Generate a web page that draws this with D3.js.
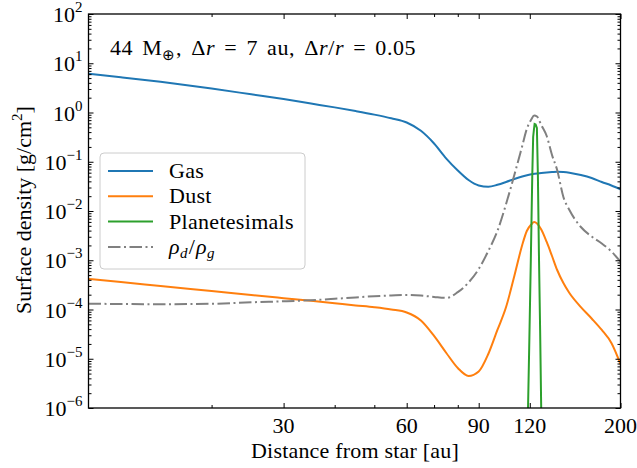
<!DOCTYPE html>
<html><head><meta charset="utf-8">
<script src="https://cdn.jsdelivr.net/npm/d3@7"></script>
<style>
body{margin:0;background:#fff}
text{font-family:"Liberation Serif","Times New Roman",serif;fill:#000}
</style>
</head><body><svg id="c" width="637" height="468"></svg>
<script>
// ---- data ----
const gasR = [10,12,15,20,25,30,35,40,45,50,55,60,65,70,75,80,85,90,95,100,105,110,115,121,128,136,140,145,150,160,170,180,190,200];
const gasSigma = [6.13,5.19,4.19,3.07,2.34,1.87,1.52,1.27,1.07,0.906,0.762,0.627,0.425,0.235,0.116,0.0664,0.0426,0.0330,0.0310,0.0340,0.0388,0.0446,0.0502,0.0556,0.0591,0.0619,0.0628,0.0619,0.0600,0.0538,0.0468,0.0388,0.0330,0.0276];

const dustR = [10,12,15,20,25,30,35,40,45,50,55,60,65,70,75,80,85,90,95,100,105,110,115,118,121,123,125,128,132,136,140,145,150,160,170,180,190,200];
const dustSigma = [4.16e-4,3.62e-4,3.00e-4,2.37e-4,1.97e-4,1.70e-4,1.50e-4,1.34e-4,1.21e-4,1.11e-4,1.00e-4,8.69e-5,5.98e-5,2.90e-5,1.31e-5,6.49e-6,4.46e-6,5.51e-6,1.25e-5,3.84e-5,1.12e-4,4.79e-4,2.04e-3,3.93e-3,5.32e-3,5.98e-3,5.58e-3,4.21e-3,2.35e-3,1.22e-3,6.34e-4,3.45e-4,2.16e-4,1.12e-4,6.57e-5,3.84e-5,2.09e-5,7.82e-6];

const planR = [118.8,119.7,120.7,121.7,122.3,122.8,123.3,124.0,124.9,125.6,126.3,127.2,128.0];
const planSigma = [9.1e-7,2.40e-5,1.01e-3,0.0538,0.318,0.441,0.584,0.570,0.484,0.0538,1.61e-3,3.84e-5,8.3e-7];

const ratioR = [10,12,15,20,25,30,35,40,45,50,55,60,65,70,75,80,85,90,95,100,105,110,115,118,121,123,125,128,132,136,140,145,150,160,170,180,190,200];
const ratioVal = [1.312e-4,1.293e-4,1.281e-4,1.306e-4,1.400e-4,1.467e-4,1.544e-4,1.650e-4,1.761e-4,1.862e-4,1.924e-4,1.970e-4,1.915e-4,1.800e-4,1.720e-4,2.250e-4,3.53e-4,6.64e-4,1.54e-3,3.93e-3,1.387e-2,5.38e-2,0.209,0.462,0.721,0.869,0.829,0.558,0.333,0.137,0.0680,0.01925,0.01048,4.73e-3,3.03e-3,2.19e-3,1.505e-3,9.34e-4];

const xTickValues = [30,60,90,120,200];
const xMinorTickValues = [20,40,50,70,80];
const yTickExponents = [-6,-5,-4,-3,-2,-1,0,1,2];
const legendNames = ["Gas","Dust","Planetesimals","rho"];
const seriesColors = ["#1f77b4","#ff7f0e","#2ca02c","#808080"];

// ---- layout ----
const L = 88.5, R = 620.5, T = 14, B = 408;
const svg = d3.select("#c");
const x = d3.scaleLog().domain([10,200]).range([L,R]);
const y = d3.scaleLog().domain([1e-6,1e2]).range([B,T]);

svg.append("defs").append("clipPath").attr("id","clip")
  .append("rect").attr("x",L).attr("y",T).attr("width",R-L).attr("height",B-T);

const line = d3.line().x(d=>x(d[0])).y(d=>y(d[1])).curve(d3.curveMonotoneX);
const lineLin = d3.line().x(d=>x(d[0])).y(d=>y(d[1]));
const g = svg.append("g").attr("clip-path","url(#clip)");

g.append("path").datum(d3.zip(gasR,gasSigma)).attr("d",line)
  .attr("fill","none").attr("stroke",seriesColors[0]).attr("stroke-width",2);
g.append("path").datum(d3.zip(dustR,dustSigma)).attr("d",line)
  .attr("fill","none").attr("stroke",seriesColors[1]).attr("stroke-width",2);
g.append("path").datum(d3.zip(planR,planSigma)).attr("d",lineLin)
  .attr("fill","none").attr("stroke",seriesColors[2]).attr("stroke-width",2);
g.append("path").datum(d3.zip(ratioR,ratioVal)).attr("d",line)
  .attr("fill","none").attr("stroke",seriesColors[3]).attr("stroke-width",2)
  .attr("stroke-dasharray","12.5,3.5,2,3.5");

// ---- axes (ticks inward on all sides) ----
const yMinor = [];
for (let e=-6;e<2;e++) for (let m=2;m<10;m++) yMinor.push(m*Math.pow(10,e));
const yMajor = yTickExponents.map(e=>Math.pow(10,e));

function axisG(axis, tx, ty){
  const a = svg.append("g").attr("transform",`translate(${tx},${ty})`).call(axis);
  a.select(".domain").remove();
  a.selectAll("line").attr("stroke","#000").attr("stroke-width",1);
  return a;
}
axisG(d3.axisBottom(x).tickValues(xTickValues).tickSize(-5).tickFormat(""),0,B);
axisG(d3.axisBottom(x).tickValues(xMinorTickValues).tickSize(-3).tickFormat(""),0,B);
axisG(d3.axisTop(x).tickValues(xTickValues).tickSize(-5).tickFormat(""),0,T);
axisG(d3.axisTop(x).tickValues(xMinorTickValues).tickSize(-3).tickFormat(""),0,T);
axisG(d3.axisLeft(y).tickValues(yMajor).tickSize(-5).tickFormat(""),L,0);
axisG(d3.axisLeft(y).tickValues(yMinor).tickSize(-3).tickFormat(""),L,0);
axisG(d3.axisRight(y).tickValues(yMajor).tickSize(-5).tickFormat(""),R,0);
axisG(d3.axisRight(y).tickValues(yMinor).tickSize(-3).tickFormat(""),R,0);

svg.append("rect").attr("x",L).attr("y",T).attr("width",R-L).attr("height",B-T)
  .attr("fill","none").attr("stroke","#000").attr("stroke-width",1.3);

const FS = 22;
// x tick labels
svg.append("g").selectAll("text").data(xTickValues).join("text")
  .attr("x",d=>x(d)).attr("y",B+25).attr("text-anchor","middle")
  .attr("font-size",FS).text(d=>d);
// y tick labels
const yl = svg.append("g").selectAll("text").data(yTickExponents).join("text")
  .attr("x",L-6).attr("y",d=>y(Math.pow(10,d))+8).attr("text-anchor","end")
  .attr("font-size",FS);
yl.append("tspan").text("10");
yl.append("tspan").attr("dy",-10).attr("font-size",15)
  .text(d=> d<0 ? "\u2212"+(-d) : String(d));

// axis labels
svg.append("text").attr("x",355).attr("y",458).attr("text-anchor","middle")
  .attr("font-size",FS).attr("letter-spacing",0.2).text("Distance from star [au]");
const ylab = svg.append("text").attr("transform","translate(31,210) rotate(-90)")
  .attr("text-anchor","middle").attr("font-size",FS);
ylab.append("tspan").text("Surface density [g/cm");
ylab.append("tspan").attr("dy",-9).attr("font-size",15).text("2");
ylab.append("tspan").attr("dy",9).text("]");

// annotation
const ann = svg.append("text").attr("x",110).attr("y",55).attr("font-size",FS)
  .attr("letter-spacing",0.6).attr("word-spacing",3);
ann.append("tspan").text("44 M");
ann.append("tspan").attr("dy",5).attr("font-size",15).text("\u2295");
ann.append("tspan").attr("dy",-5).text(", \u0394");
ann.append("tspan").attr("font-style","italic").text("r");
ann.append("tspan").text(" = 7 au, \u0394");
ann.append("tspan").attr("font-style","italic").text("r");
ann.append("tspan").text("/");
ann.append("tspan").attr("font-style","italic").text("r");
ann.append("tspan").text(" = 0.05");

// legend
const lg = svg.append("g");
lg.append("rect").attr("x",100).attr("y",153).attr("width",205).attr("height",116)
  .attr("rx",4).attr("fill","#fff").attr("fill-opacity",0.8)
  .attr("stroke","#cccccc").attr("stroke-width",1);
const rows = lg.selectAll("g.row").data(legendNames).join("g")
  .attr("transform",(d,i)=>`translate(0,${171+i*25.3})`);
rows.append("line").attr("x1",108).attr("x2",153).attr("y1",0).attr("y2",0)
  .attr("stroke",(d,i)=>seriesColors[i]).attr("stroke-width",2)
  .attr("stroke-dasharray",(d,i)=> i===3 ? "12.5,3.5,2,3.5" : null);
rows.each(function(d){
  const t = d3.select(this).append("text").attr("x",169).attr("y",7).attr("font-size",FS)
    .attr("letter-spacing",0.3);
  if (d==="rho"){
    t.append("tspan").attr("font-style","italic").text("\u03C1");
    t.append("tspan").attr("dy",4).attr("font-size",15).attr("font-style","italic").text("d");
    t.append("tspan").attr("dy",-4).attr("dx",1).text("/");
    t.append("tspan").attr("dx",1).attr("font-style","italic").text("\u03C1");
    t.append("tspan").attr("dy",4).attr("font-size",15).attr("font-style","italic").text("g");
  } else t.text(d);
});
</script>
</body></html>
